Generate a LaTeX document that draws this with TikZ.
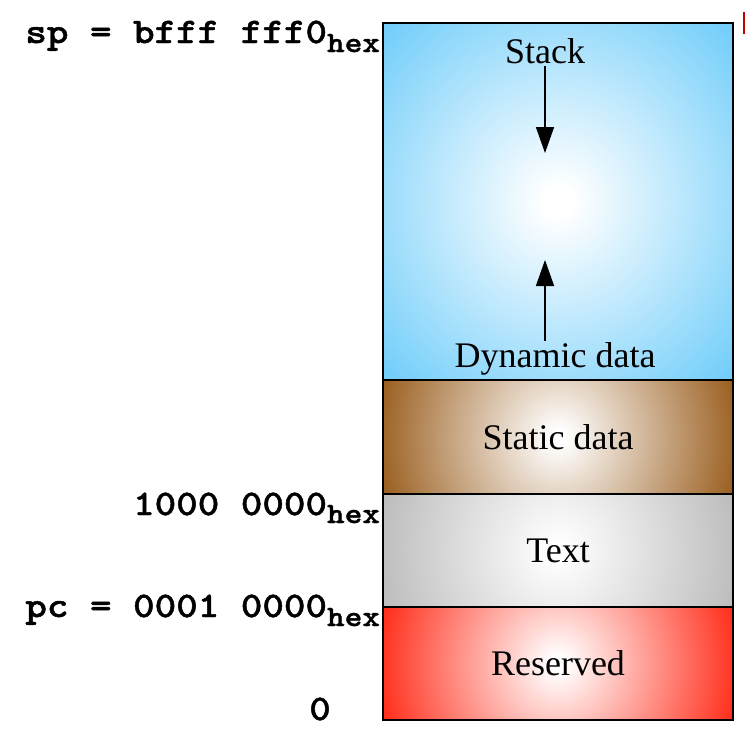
\documentclass[tikz,border=0pt]{standalone}
\usepackage{fontspec}
\setmainfont{Liberation Serif}
\newfontfamily\cour{lmmonolt10-bold.otf}[FakeStretch=1.14,FakeBold=1.3]
\usetikzlibrary{arrows.meta}
\definecolor{sblue}{RGB}{115,206,250}
\definecolor{sbrown}{RGB}{150,88,22}
\definecolor{sgray}{RGB}{180,180,180}
\definecolor{sred}{RGB}{255,36,16}
\pgfdeclareradialshading{blueshade}{\pgfpoint{0bp}{0bp}}{color(0bp)=(white); color(2bp)=(white); color(34bp)=(sblue); color(100bp)=(sblue)}
\pgfdeclareradialshading{brownshade}{\pgfpoint{0bp}{0bp}}{color(0bp)=(white); color(1bp)=(white); color(27bp)=(sbrown); color(100bp)=(sbrown)}
\pgfdeclareradialshading{grayshade}{\pgfpoint{0bp}{0bp}}{color(0bp)=(white); color(1bp)=(white); color(29bp)=(sgray); color(100bp)=(sgray)}
\pgfdeclareradialshading{redshade}{\pgfpoint{0bp}{0bp}}{color(0bp)=(white); color(1bp)=(white); color(27bp)=(sred); color(100bp)=(sred)}
\tikzset{
  seg/.style={rectangle, minimum width=350pt, inner sep=0pt, outer sep=0pt, font=\fontsize{36}{40}\selectfont,
    path picture={\shade[shading=#1] ([xshift=-176pt,yshift=-182pt]path picture bounding box.center) rectangle ([xshift=176pt,yshift=182pt]path picture bounding box.center);}},
  segline/.style={draw=black, line width=2pt},
  lbl/.style={inner sep=0pt, outer sep=0pt, font=\fontsize{36}{40}\selectfont},
  addr/.style={inner sep=0pt, outer sep=0pt, anchor=base east},
  growarrow/.style={line width=1.6pt, -{Triangle[width=18pt,length=26pt]}}
}
\newcommand{\mainsz}{\fontsize{36}{40}\selectfont}
\newcommand{\hexsub}[1]{\raisebox{-#1}{\fontsize{29.5}{32}\selectfont hex}}
\begin{document}
\begin{tikzpicture}[x=1pt,y=-1pt]
\useasboundingbox (0,0) rectangle (745,734);
% memory segments
\node[seg=blueshade, minimum height=357pt] (stackseg) at (558,201.5) {};
\node[seg=brownshade, minimum height=114pt] (staticseg) at (558,437) {Static data};
\node[seg=grayshade, minimum height=113pt] (textseg) at (558,550.5) {Text};
\node[seg=redshade, minimum height=113pt] (resseg) at (558,663.5) {Reserved};
\draw[segline] (stackseg.north west) rectangle (stackseg.south east);
\draw[segline] (staticseg.north west) rectangle (staticseg.south east);
\draw[segline] (textseg.north west) rectangle (textseg.south east);
\draw[segline] (resseg.north west) rectangle (resseg.south east);
% stack labels and arrows
\node[lbl, anchor=base] (stacklbl) at (545,63) {Stack};
\node[lbl, anchor=base] (dynlbl) at (555,367) {Dynamic data};
\coordinate (downtip) at (545,153);
\coordinate (uptip) at (545,260);
\coordinate (upbase) at (545,341);
\draw[growarrow] (stacklbl.south -| downtip) ++(0,3) -- (downtip);
\draw[growarrow] (upbase) -- (uptip);
% addresses
\node[addr] (sp) at (380,43) {\cour\mainsz sp = bfff fff0\hexsub{9pt}};
\node[addr] (tx) at (380,515) {\cour\mainsz 1000 0000\hexsub{8pt}};
\node[addr] (pc) at (380,617) {\cour\mainsz pc = 0001 0000\hexsub{9pt}};
\node[addr, anchor=base] (zero) at (320,720) {\cour\mainsz 0};
% red mark at edge
\fill[red!75!black] (743,12) rectangle (745,34);
\end{tikzpicture}
\end{document}
